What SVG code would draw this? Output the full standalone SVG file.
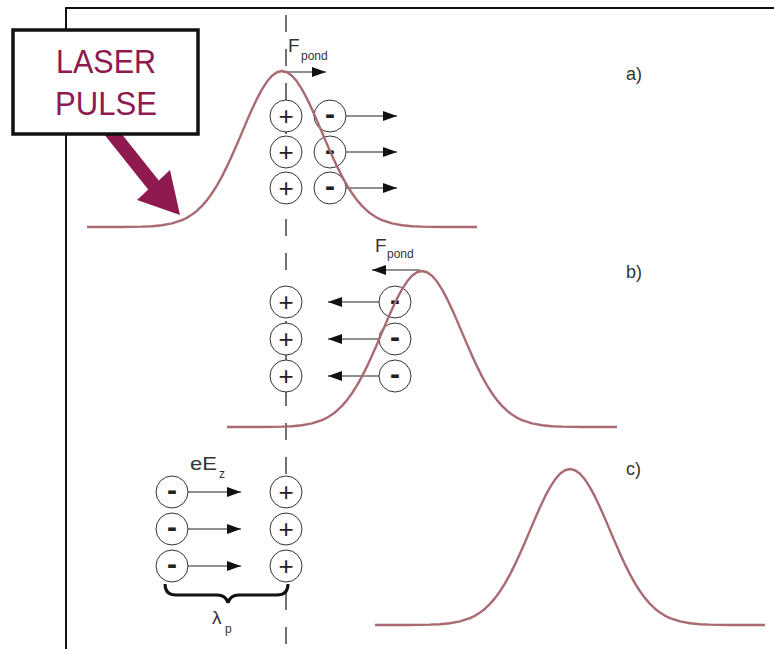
<svg xmlns="http://www.w3.org/2000/svg" width="774" height="649" viewBox="0 0 774 649">
<defs>
<style>
.frame{stroke:#111;stroke-width:2;fill:none}
.axis{stroke:#444;stroke-width:1.5;stroke-dasharray:17 17;fill:none}
.ion{fill:#fff;stroke:#333;stroke-width:1}
.sign{font-family:"Liberation Sans",Arial,sans-serif;fill:#222;text-anchor:middle}
.plus{font-size:26px}
.minus{font-size:30px;font-weight:bold}
.pulse{fill:none;stroke:#aa6a72;stroke-width:2.4;stroke-linejoin:round}
.arr{stroke:#222;stroke-width:1.2;fill:none;marker-end:url(#ah)}
.lbl{font-family:"Liberation Sans",Arial,sans-serif;fill:#333}
.laser{font-family:"Liberation Sans",Arial,sans-serif;fill:#8e1a50;font-size:33px;text-anchor:middle}
</style>
<marker id="ah" markerUnits="userSpaceOnUse" markerWidth="15" markerHeight="11" refX="14" refY="5" orient="auto">
<path d="M0,0 L14,5 L0,10 z" fill="#111"/>
</marker>
<path id="gauss" class="pulse" d="M-195,0 L-160,-0.05 L-140,-0.34 L-130,-0.79 L-120,-1.73 L-110,-3.56 L-100,-6.85 L-95,-9.29 L-90,-12.41 L-85,-16.31 L-80,-21.11 L-75,-26.9 L-70,-33.74 L-65,-41.66 L-60,-50.65 L-55,-60.61 L-50,-71.42 L-45,-82.85 L-40,-94.62 L-35,-106.39 L-30,-117.76 L-25,-128.32 L-20,-137.67 L-15,-145.41 L-10,-151.2 L-5,-154.79 L0,-156 L5,-154.79 L10,-151.2 L15,-145.41 L20,-137.67 L25,-128.32 L30,-117.76 L35,-106.39 L40,-94.62 L45,-82.85 L50,-71.42 L55,-60.61 L60,-50.65 L65,-41.66 L70,-33.74 L75,-26.9 L80,-21.11 L85,-16.31 L90,-12.41 L95,-9.29 L100,-6.85 L110,-3.56 L120,-1.73 L130,-0.79 L140,-0.34 L160,-0.05 L195,0"/>
<g id="pos"><circle class="ion" r="16"/><text class="sign plus" y="9">+</text></g>
<g id="neg"><circle class="ion" r="16"/><text class="sign minus" y="8">-</text></g>
</defs>
<rect width="774" height="649" fill="#fff"/>
<g id="frame">
<path class="frame" d="M66,649 L66,8 L774,8"/>
</g>
<g id="axis">
<line class="axis" x1="286" y1="15" x2="286" y2="649"/>
</g>
<g id="panel-a-ions">
<use href="#pos" x="286" y="116"/><use href="#pos" x="286" y="152"/><use href="#pos" x="286" y="188"/>
<use href="#neg" x="330" y="116"/><use href="#neg" x="330" y="152"/><use href="#neg" x="330" y="188"/>
</g>
<g id="panel-b-ions">
<use href="#pos" x="286" y="302"/><use href="#pos" x="286" y="339"/><use href="#pos" x="286" y="376"/>
<use href="#neg" x="395" y="302"/><use href="#neg" x="395" y="339"/><use href="#neg" x="395" y="376"/>
</g>
<g id="panel-c-ions">
<use href="#neg" x="172" y="492"/><use href="#neg" x="172" y="529"/><use href="#neg" x="172" y="566"/>
<use href="#pos" x="286" y="492"/><use href="#pos" x="286" y="529"/><use href="#pos" x="286" y="566"/>
</g>
<g id="connectors">
<line class="arr" x1="346" y1="116" x2="397" y2="116"/>
<line class="arr" x1="346" y1="152" x2="397" y2="152"/>
<line class="arr" x1="346" y1="188" x2="397" y2="188"/>
<line class="arr" x1="283" y1="72" x2="326" y2="72"/>
<line class="arr" x1="379" y1="302" x2="328" y2="302"/>
<line class="arr" x1="379" y1="339" x2="328" y2="339"/>
<line class="arr" x1="379" y1="376" x2="328" y2="376"/>
<line class="arr" x1="420" y1="270" x2="372" y2="270"/>
<line class="arr" x1="188" y1="492" x2="241" y2="492"/>
<line class="arr" x1="188" y1="529" x2="241" y2="529" stroke="#777"/>
<line class="arr" x1="188" y1="566" x2="241" y2="566" stroke="#777"/>
</g>
<g id="pulses">
<use href="#gauss" x="282" y="227"/>
<use href="#gauss" x="422" y="427"/>
<use href="#gauss" x="570" y="625"/>
</g>
<g id="brace">
<path d="M165,584 Q165,595 176,595 L217,595 Q226,595 228,603 Q230,595 239,595 L277,595 Q288,595 288,584" fill="none" stroke="#111" stroke-width="3"/>
</g>
<g id="labels">
<text class="lbl" x="288" y="52" font-size="19">F</text>
<text class="lbl" x="301" y="60" font-size="12">pond</text>
<text class="lbl" x="375" y="252" font-size="19">F</text>
<text class="lbl" x="387" y="258" font-size="12">pond</text>
<text class="lbl" x="190" y="470" font-size="19" textLength="27" lengthAdjust="spacingAndGlyphs">eE</text>
<text class="lbl" x="219" y="478" font-size="12">z</text>
<text class="lbl" x="212" y="624" font-size="19" font-family="DejaVu Sans, sans-serif">λ</text>
<text class="lbl" x="225" y="633" font-size="12">p</text>
<text class="lbl" x="626" y="80" font-size="18">a)</text>
<text class="lbl" x="626" y="278" font-size="18">b)</text>
<text class="lbl" x="626" y="475" font-size="18">c)</text>
</g>
<g id="laser-pulse">
<polygon points="113.3,123.4 158.8,180.4 170,170 180,215 137,200 148.2,189.6 102.7,132.6" fill="#8e1a50"/>
<rect x="13" y="30" width="185" height="104" fill="#fff" stroke="#111" stroke-width="3.5"/>
<text class="laser" x="106" y="73" textLength="100" lengthAdjust="spacingAndGlyphs">LASER</text>
<text class="laser" x="106" y="115" textLength="102" lengthAdjust="spacingAndGlyphs">PULSE</text>
</g>
</svg>
